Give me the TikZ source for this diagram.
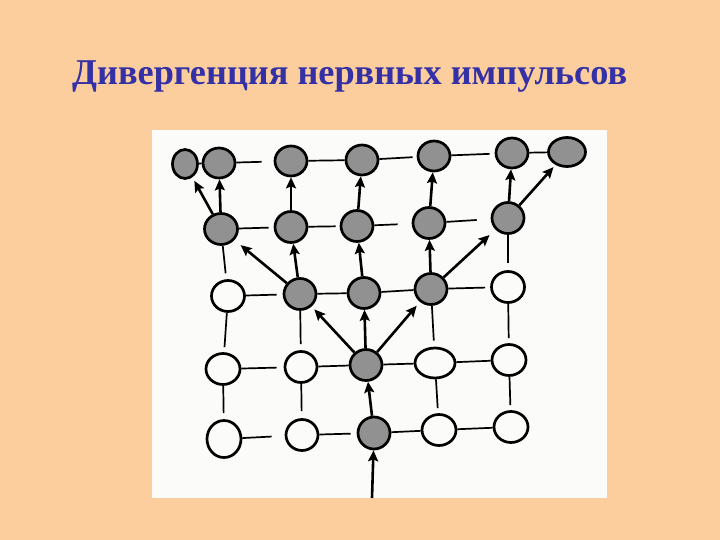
\documentclass[tikz,border=0pt]{standalone}
\usepackage{fontspec}
\setmainfont{Liberation Serif}
\usetikzlibrary{shapes.geometric,arrows.meta}
\definecolor{bgpeach}{RGB}{252,206,158}
\definecolor{paper}{RGB}{251,251,249}
\definecolor{titleblue}{RGB}{52,48,165}
\definecolor{nodegray}{RGB}{145,145,145}
\tikzset{
  cell/.style={ellipse,draw=black,line width=2.7pt,inner sep=0pt,fill=paper},
  dark/.style={cell,fill=nodegray},
  ln/.style={draw=black,line width=1.7pt},
  arr/.style={draw=black,line width=2.6pt,-{Stealth[length=11pt,width=10pt,inset=2pt]}},
}
\newcommand{\cellnode}[6]{\node[#1,minimum width=#5pt,minimum height=#6pt] (#2) at (#3,#4) {};}
\begin{document}
\begin{tikzpicture}[x=1pt,y=-1pt]
\useasboundingbox (0,0) rectangle (720,540);
\fill[bgpeach] (0,0) rectangle (720,540);
\fill[paper] (152,130) rectangle (607,498);
\node[anchor=base west,inner sep=0pt,text=titleblue,font=\fontsize{36.3}{40}\selectfont\bfseries] (title) at (72,85) {Дивергенция нервных импульсов};
% row A
\cellnode{dark}{A1}{185}{164}{25}{29}
\cellnode{dark}{A2}{219}{163}{32}{30}
\cellnode{dark}{A3}{291}{161}{32}{30}
\cellnode{dark}{A4}{362}{160}{32}{30}
\cellnode{dark}{A5}{434}{156}{32}{30}
\cellnode{dark}{A6}{512}{153}{32}{30}
\cellnode{dark}{A7}{567}{152}{37}{29}
% row B
\cellnode{dark}{B1}{221}{229}{33}{31}
\cellnode{dark}{B2}{291}{227}{32}{31}
\cellnode{dark}{B3}{357}{226}{32}{31}
\cellnode{dark}{B4}{429}{223}{32}{31}
\cellnode{dark}{B5}{508}{218}{32}{31}
% row C
\cellnode{cell}{C1}{228}{296}{33}{31}
\cellnode{dark}{C2}{300}{294}{32}{31}
\cellnode{dark}{C3}{364}{293}{32}{31}
\cellnode{dark}{C4}{431}{289}{32}{31}
\cellnode{cell}{C5}{508}{287}{33}{31}
% row D
\cellnode{cell}{D1}{223}{369}{34}{31}
\cellnode{cell}{D2}{301}{367}{32}{31}
\cellnode{dark}{D3}{366}{365}{32}{31}
\cellnode{cell}{D4}{435}{363}{40}{30}
\cellnode{cell}{D5}{509}{360}{34}{31}
% row E
\cellnode{cell}{E1}{224}{439}{34}{37}
\cellnode{cell}{E2}{302}{435}{32}{31}
\cellnode{dark}{E3}{374}{433}{32}{32}
\cellnode{cell}{E4}{439}{430}{34}{31}
\cellnode{cell}{E5}{511}{427}{34}{31}
\coordinate (in) at (372,498);
% plain connections
\draw[ln] (A1) -- (A2);
\draw[ln,shorten >=12pt] (A2) -- (A3);
\draw[ln] (A3) -- (A4);
\draw[ln,shorten >=4pt] (A4) -- (A5);
\draw[ln,shorten >=5pt] (A5) -- (A6);
\draw[ln] (A6) -- (A7);
\draw[ln,shorten >=5pt] (B1) -- (B2);
\draw[ln,shorten >=4pt] (B2) -- (B3);
\draw[ln,shorten >=14pt] (B3) -- (B4);
\draw[ln,shorten >=14pt] (B4) -- (B5);
\draw[ln,shorten >=6pt] (B1) -- (C1);
\draw[ln,shorten >=7pt] (B5) -- (C5);
\draw[ln,shorten >=6pt] (C1) -- (C2);
\draw[ln] (C2) -- (C3);
\draw[ln] (C3) -- (C4);
\draw[ln,shorten >=5pt] (C4) -- (C5);
\draw[ln,shorten >=5pt] (C1) -- (D1);
\draw[ln,shorten >=6pt] (C2) -- (D2);
\draw[ln,shorten >=6pt] (C4) -- (D4);
\draw[ln,shorten >=5pt] (C5) -- (D5);
\draw[ln,shorten >=7pt] (D1) -- (D2);
\draw[ln] (D2) -- (D3);
\draw[ln] (D3) -- (D4);
\draw[ln] (D4) -- (D5);
\draw[ln,shorten >=6pt] (D1) -- (E1);
\draw[ln,shorten >=7pt] (D2) -- (E2);
\draw[ln,shorten >=5pt] (D4) -- (E4);
\draw[ln,shorten >=5pt] (D5) -- (E5);
\draw[ln,shorten >=13pt] (E1) -- (E2);
\draw[ln,shorten >=6pt] (E2) -- (E3);
\draw[ln] (E3) -- (E4);
\draw[ln] (E4) -- (E5);
% arrows
\draw[arr] (B1) -- (A2);
\draw[arr,shorten >=4pt] (B1) -- (A1);
\draw[arr] (B2) -- (A3);
\draw[arr] (B3) -- (A4);
\draw[arr] (B4) -- (A5);
\draw[arr] (B5) -- (A6);
\draw[arr,shorten >=3pt] (B5) -- (A7);
\draw[arr,shorten >=8pt] (C2) -- (B1);
\draw[arr] (C2) -- (B2);
\draw[arr] (C3) -- (B3);
\draw[arr] (C4) -- (B4);
\draw[arr,shorten >=8pt] (C4) -- (B5);
\draw[arr,shorten >=4pt] (D3) -- (C2);
\draw[arr] (D3) -- (C3);
\draw[arr,shorten >=5pt] (D3) -- (C4);
\draw[arr] (E3) -- (D3);
\draw[arr] (in) -- (E3);
\end{tikzpicture}
\end{document}
